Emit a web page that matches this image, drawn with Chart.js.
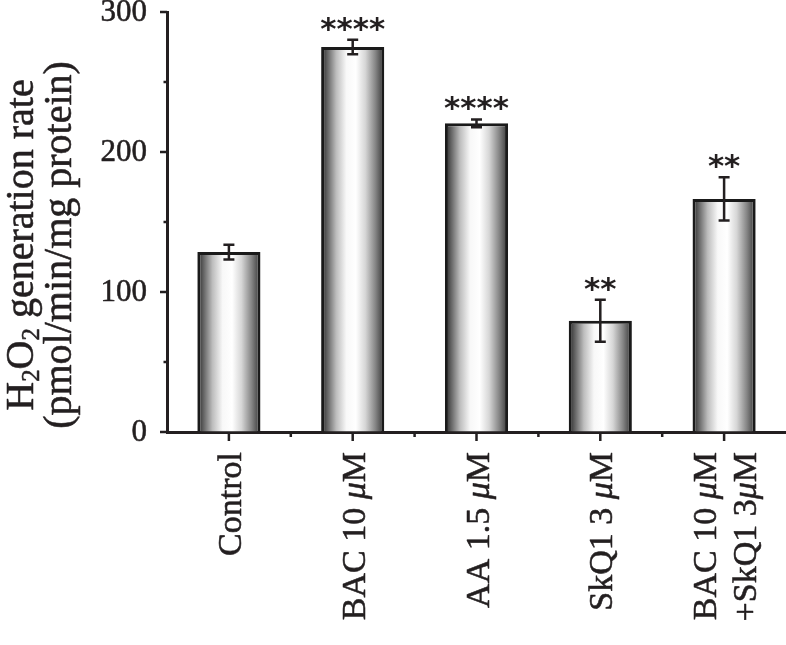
<!DOCTYPE html>
<html>
<head>
<meta charset="utf-8">
<script src="https://cdn.jsdelivr.net/npm/chart.js@4.4.1/dist/chart.umd.min.js"></script>
<style>
  html, body { margin: 0; padding: 0; background: #fff; }
  #wrap { width: 786px; height: 645px; }
</style>
</head>
<body>
<div id="wrap"><canvas id="myChart"></canvas></div>
<script>
var categories = ['Control', 'BAC 10 μM', 'AA 1.5 μM', 'SkQ1 3 μM', ['BAC 10 μM', '+SkQ1 3μM']];
var rates = [128.5, 275, 220.5, 79.5, 166.5];
var errors = [5.3, 5.2, 2.8, 15, 15.5];
var stars = ['', '****', '****', '**', '**'];
var majorTicks = [0, 100, 200, 300];
var minorTicks = [50, 150, 250];
var yTitle = [['H', '2', 'O', '2', ' generation rate'], ['(pmol/min/mg protein)']];

var ink = '#231f20';
var serif = "'Liberation Serif', 'Times New Roman', serif";
var barPct = 0.51;

function barFill(ctx) {
    var chart = ctx.chart;
    var xs = chart.scales.x;
    if (!xs || ctx.dataIndex === undefined) return '#cccccc';
    var cx = xs.getPixelForValue(ctx.dataIndex);
    var half = (xs.width / categories.length) * barPct / 2;
    if (!isFinite(cx) || !isFinite(half) || half <= 0) return '#cccccc';
    var g = chart.ctx.createLinearGradient(cx - half, 0, cx + half, 0);
    g.addColorStop(0, '#262626');
    g.addColorStop(0.09, '#5e5e5e');
    g.addColorStop(0.24, '#bdbdbd');
    g.addColorStop(0.4, '#f8f8f8');
    g.addColorStop(0.55, '#ffffff');
    g.addColorStop(0.7, '#d6d6d6');
    g.addColorStop(0.86, '#858585');
    g.addColorStop(1, '#333333');
    return g;
}

// fill + thin stroke so the serif reads as heavy as the print
function heavyText(c, t, x, y) {
    c.fillText(t, x, y);
    c.strokeText(t, x, y);
}

// text with italic mu pieces, right aligned at origin (rotated frame)
function drawPieces(c, text, size, rightX, baseY) {
    var parts = text.split(/(μ)/);
    var total = 0;
    var widths = [];
    parts.forEach(function(p) {
        c.font = (p === 'μ' ? 'italic ' : '') + size + 'px ' + serif;
        var w = c.measureText(p).width;
        widths.push(w);
        total += w;
    });
    var x = rightX - total;
    parts.forEach(function(p, k) {
        c.font = (p === 'μ' ? 'italic ' : '') + size + 'px ' + serif;
        heavyText(c, p, x, baseY);
        x += widths[k];
    });
}

var paint = {
    id: 'paint',
    afterDatasetsDraw: function(chart) {
        var c = chart.ctx, xs = chart.scales.x, ys = chart.scales.y;
        c.save();
        c.strokeStyle = ink;
        c.fillStyle = ink;
        c.lineWidth = 2.5;
        for (var i = 0; i < rates.length; i++) {
            var x = xs.getPixelForValue(i);
            var top = ys.getPixelForValue(rates[i] + errors[i]);
            var bot = ys.getPixelForValue(rates[i] - errors[i]);
            c.beginPath();
            c.moveTo(x, top); c.lineTo(x, bot);
            c.moveTo(x - 5.5, top); c.lineTo(x + 5.5, top);
            c.moveTo(x - 5.5, bot); c.lineTo(x + 5.5, bot);
            c.stroke();
            if (stars[i]) {
                c.font = "bold 31px 'DejaVu Sans', sans-serif";
                c.textAlign = 'center';
                c.textBaseline = 'alphabetic';
                var m = c.measureText('*');
                var mid = (m.actualBoundingBoxAscent - m.actualBoundingBoxDescent) / 2;
                c.fillText(stars[i], x, top - 15.5 + mid);
            }
        }
        c.restore();
    },
    afterDraw: function(chart) {
        var c = chart.ctx, xs = chart.scales.x, ys = chart.scales.y;
        var area = chart.chartArea;
        c.save();
        c.strokeStyle = ink;
        c.fillStyle = ink;
        c.lineWidth = 2.5;
        // y ticks
        c.beginPath();
        majorTicks.forEach(function(v) {
            var y = ys.getPixelForValue(v);
            c.moveTo(area.left - 7, y); c.lineTo(area.left, y);
        });
        minorTicks.forEach(function(v) {
            var y = ys.getPixelForValue(v);
            c.moveTo(area.left - 3.5, y); c.lineTo(area.left, y);
        });
        // x ticks
        var step = xs.width / categories.length;
        for (var i = 0; i < categories.length; i++) {
            var x = xs.getPixelForValue(i);
            c.moveTo(x, area.bottom); c.lineTo(x, area.bottom + 9);
            if (i > 0) {
                c.moveTo(x - step / 2, area.bottom); c.lineTo(x - step / 2, area.bottom + 5);
            }
        }
        c.stroke();

        c.lineWidth = 0.55;
        c.lineJoin = 'round';

        // y tick labels
        c.textAlign = 'right';
        c.textBaseline = 'middle';
        c.font = '31px ' + serif;
        majorTicks.forEach(function(v) {
            heavyText(c, String(v), area.left - 20, ys.getPixelForValue(v) + 1);
        });

        // x labels, rotated
        c.textAlign = 'left';
        c.textBaseline = 'alphabetic';
        for (var j = 0; j < categories.length; j++) {
            var lines = [].concat(categories[j]);
            var cx = xs.getPixelForValue(j);
            var lh = 40;
            var first = cx + 12 - (lines.length - 1) * lh / 2;
            lines.forEach(function(t, k) {
                c.save();
                c.translate(first + k * lh, area.bottom + 20);
                c.rotate(-Math.PI / 2);
                drawPieces(c, t, 34, 0, 0);
                c.restore();
            });
        }

        // y title, rotated, with subscripts
        var size = 40;
        var baseX = [33, 71];
        yTitle.forEach(function(parts, k) {
            c.save();
            c.translate(baseX[k], 245);
            c.rotate(-Math.PI / 2);
            var total = 0;
            parts.forEach(function(p) {
                var sub = /^\d$/.test(p);
                c.font = (sub ? size * 0.62 : size) + 'px ' + serif;
                total += c.measureText(p).width;
            });
            var x = -total / 2;
            parts.forEach(function(p) {
                var sub = /^\d$/.test(p);
                c.font = (sub ? size * 0.62 : size) + 'px ' + serif;
                heavyText(c, p, x, sub ? 6 : 0);
                x += c.measureText(p).width;
            });
            c.restore();
        });
        c.restore();
    }
};

var ctx = document.getElementById('myChart');
var myChart = new Chart(ctx, {
    type: 'bar',
    data: {
        labels: categories,
        datasets: [{
            label: 'H2O2 generation rate',
            data: rates,
            backgroundColor: barFill,
            borderColor: '#1a1a1a',
            borderWidth: 3,
            barPercentage: barPct,
            categoryPercentage: 1
        }]
    },
    options: {
        responsive: true,
        maintainAspectRatio: false,
        animation: false,
        events: [],
        layout: { padding: { top: 12, right: 0, bottom: 0, left: 0 } },
        plugins: {
            legend: { display: false },
            tooltip: { enabled: false }
        },
        scales: {
            x: {
                ticks: { display: false },
                grid: { display: true, drawOnChartArea: false, drawTicks: false },
                border: { display: true, width: 3, color: ink },
                afterFit: function(s) { s.height = 213; s.paddingLeft = 0; s.paddingRight = 0; }
            },
            y: {
                min: 0,
                max: 300,
                ticks: {
                    stepSize: 50,
                    autoSkip: false,
                    display: false
                },
                grid: { display: true, drawOnChartArea: false, drawTicks: false },
                border: { display: true, width: 3, color: ink },
                afterFit: function(s) { s.width = 167; s.paddingTop = 0; s.paddingBottom = 0; }
            }
        }
    },
    plugins: [paint]
});
</script>
</body>
</html>
